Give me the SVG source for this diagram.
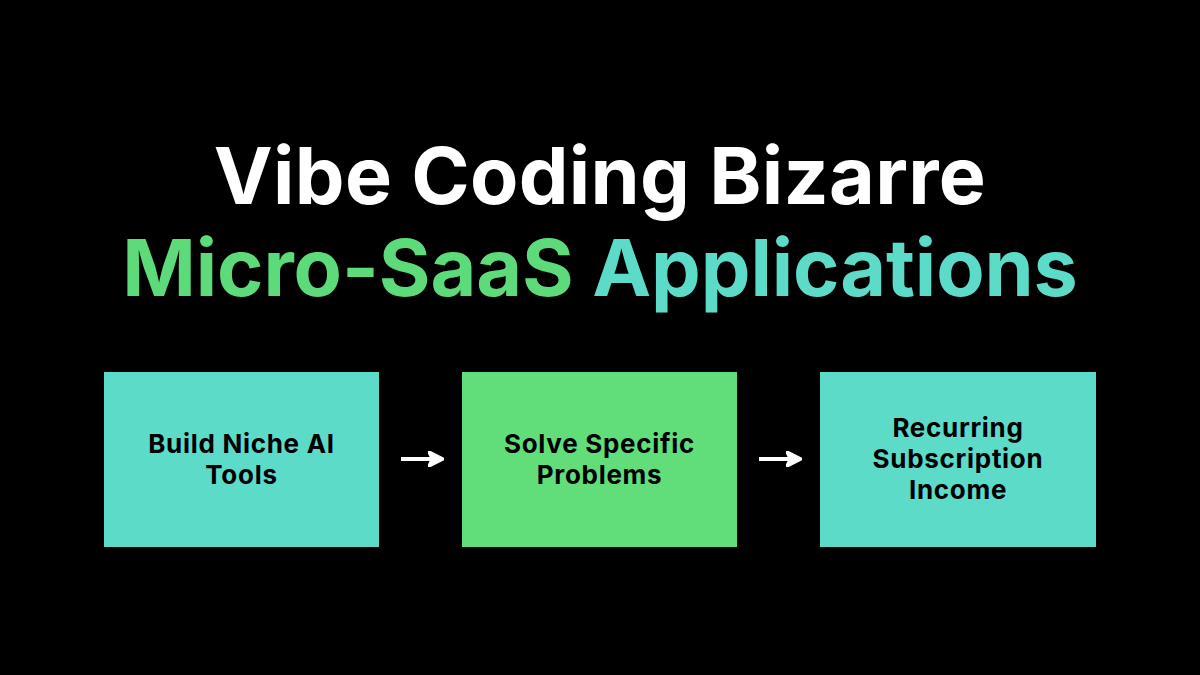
<svg xmlns="http://www.w3.org/2000/svg" width="1200" height="675" viewBox="0 0 1200 675">
<style>
.title{font-family:Inter,"Open Sans","Liberation Sans",sans-serif;font-weight:700;font-size:79px;text-anchor:middle;letter-spacing:0.3px}
.lbl{font-family:Inter,"Open Sans","Liberation Sans",sans-serif;font-weight:700;font-size:26px;fill:#000;text-anchor:middle;letter-spacing:0.7px}
.teal{fill:#5DDBC9}
.green{fill:#61DE7A}
.conn{stroke:#fff;stroke-width:4;fill:none}
</style>
<defs>
<marker id="ah" markerWidth="4" markerHeight="4" refX="2" refY="2" orient="auto" markerUnits="strokeWidth">
<path d="M0,0 L4,2 L0,4 L1,2 Z" fill="#fff" stroke="#fff" stroke-width="0.6" stroke-linejoin="round"/>
</marker>
</defs>
<rect width="1200" height="675" fill="#000"/>
<g id="title">
<text class="title" x="600" y="204" fill="#fff">Vibe Coding Bizarre</text>
<text class="title" x="600" y="296" style="letter-spacing:-0.1px"><tspan fill="#5DDB7A">Micro-SaaS</tspan> <tspan fill="#5DDBC9">Applications</tspan></text>
</g>
<g id="connectors">
<line class="conn" x1="401" y1="459" x2="436" y2="459" marker-end="url(#ah)"/>
<line class="conn" x1="759" y1="459" x2="794" y2="459" marker-end="url(#ah)"/>
</g>
<g id="node1">
<rect class="teal" x="104" y="372" width="275" height="175"/>
<text class="lbl" x="241.5" y="453">Build Niche AI</text>
<text class="lbl" x="241.5" y="484">Tools</text>
</g>
<g id="node2">
<rect class="green" x="462" y="372" width="275" height="175"/>
<text class="lbl" x="599.5" y="453">Solve Specific</text>
<text class="lbl" x="599.5" y="484">Problems</text>
</g>
<g id="node3">
<rect class="teal" x="820" y="372" width="276" height="175"/>
<text class="lbl" x="958" y="437">Recurring</text>
<text class="lbl" x="958" y="468">Subscription</text>
<text class="lbl" x="958" y="499">Income</text>
</g>
</svg>
